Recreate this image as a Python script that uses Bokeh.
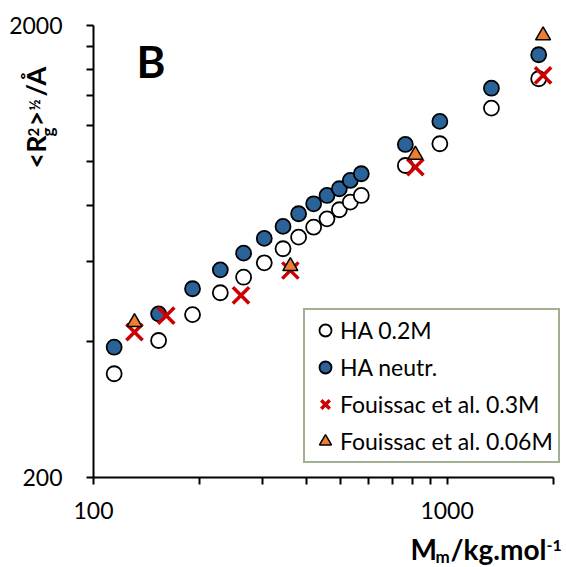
import math
from bokeh.plotting import figure
from bokeh.models import FixedTicker, Label, Legend, LegendItem, NumeralTickFormatter
from bokeh.embed import file_html
from bokeh.resources import INLINE

# ---- data ----
mm_ha = [114.4, 152.8, 190.6, 228.4, 265.8, 304.1, 343.6, 380.3, 419.4, 457.5,
         495.8, 532.5, 572.0, 762.1, 954.1, 1335, 1816]
rg_ha_02 = [339.3, 401.9, 458.6, 512.6, 554.8, 597.1, 641.4, 680.5, 715.8, 747.0,
            782.3, 813.2, 841.4, 980.1, 1095, 1313, 1525]
rg_ha_neutr = [388.4, 460.3, 523.1, 576.1, 627.1, 676.1, 718.7, 766.5, 806.5, 841.4,
               870.6, 908.3, 939.8, 1091, 1227, 1453, 1723]
mm_fou_03 = [130.6, 160.6, 261.3, 360.4, 813.5, 1869]
rg_fou_03 = [419.3, 456.3, 505.6, 574.1, 971.6, 1551]
mm_fou_006 = [130.6, 360.4, 813.5, 1869]
rg_fou_006 = [441.2, 586.9, 1035, 1901]

series_labels = ["HA 0.2M", "HA neutr.", "Fouissac et al. 0.3M", "Fouissac et al. 0.06M"]
x_major = [100, 1000]
x_minor = [200, 300, 400, 500, 600, 700, 800, 900, 2000]
y_major = [200, 2000]
y_minor = [400, 600, 800, 1000, 1200, 1400, 1600, 1800]
x_axis_span = (100, 2000)
y_axis_span = (200, 2000)

# ---- layout: the frame fills the canvas, axes sit at fixed locations inside it ----
W, H = 566, 567
AX_L, AX_R, AX_T, AX_B = 93, 553, 25, 477          # pixel box of the axes
dec_x = (AX_R - AX_L) / (math.log10(x_axis_span[1]) - math.log10(x_axis_span[0]))
dec_y = (AX_B - AX_T) / (math.log10(y_axis_span[1]) - math.log10(y_axis_span[0]))
x_lo = 10 ** (math.log10(x_axis_span[0]) - AX_L / dec_x)
x_hi = 10 ** (math.log10(x_axis_span[0]) + (W - AX_L) / dec_x)
y_lo = 10 ** (math.log10(y_axis_span[0]) - (H - AX_B) / dec_y)
y_hi = 10 ** (math.log10(y_axis_span[1]) + AX_T / dec_y)

FONT = "Lato"

p = figure(width=W, height=H, x_axis_type="log", y_axis_type="log",
           x_range=(x_lo, x_hi), y_range=(y_lo, y_hi),
           output_backend="svg", toolbar_location=None, min_border=0)
p.xgrid.visible = False
p.ygrid.visible = False
p.outline_line_color = None
p.background_fill_color = "white"
p.border_fill_color = "white"

p.xaxis.ticker = FixedTicker(ticks=x_major, minor_ticks=x_minor)
p.yaxis.ticker = FixedTicker(ticks=y_major, minor_ticks=y_minor)
p.xaxis.formatter = NumeralTickFormatter(format="0")
p.yaxis.formatter = NumeralTickFormatter(format="0")
p.xaxis.fixed_location = y_axis_span[0]
p.yaxis.fixed_location = x_axis_span[0]
p.xaxis.bounds = x_axis_span
p.yaxis.bounds = y_axis_span

for ax in (p.xaxis[0], p.yaxis[0]):
    ax.axis_line_width = 2
    ax.axis_line_color = "black"
    ax.major_tick_line_width = 2
    ax.minor_tick_line_width = 2
    ax.major_tick_line_color = "black"
    ax.minor_tick_line_color = "black"
    ax.major_tick_out = 7
    ax.major_tick_in = 0
    ax.minor_tick_out = 7
    ax.minor_tick_in = 0
    ax.major_label_text_font = FONT
    ax.major_label_text_font_size = "23px"
    ax.major_label_text_color = "black"
p.xaxis.major_label_standoff = 17
p.yaxis.major_label_standoff = 24

r1 = p.scatter(mm_ha, rg_ha_02, marker="circle", size=15, fill_color="white",
               line_color="black", line_width=1.8)
r2 = p.scatter(mm_ha, rg_ha_neutr, marker="circle", size=15, fill_color="#2A6399",
               line_color="black", line_width=1.8)
r3 = p.scatter(mm_fou_03, rg_fou_03, marker="x", size=23, line_color="#CC0000",
               line_width=3.5)
r4 = p.scatter(mm_fou_006, rg_fou_006, marker="triangle", size=15, fill_color="#ED7D31",
               line_color="black", line_width=1.5)

legend = Legend(items=[LegendItem(label=series_labels[i], renderers=[r])
                       for i, r in enumerate([r1, r2, r3, r4])],
                location=(303, H - 463), orientation="vertical",
                border_line_color="#46622A", border_line_width=2,
                background_fill_color="white", background_fill_alpha=1.0,
                label_text_font=FONT, label_text_font_size="23px",
                label_text_color="black",
                glyph_width=30, glyph_height=30, spacing=7, padding=5,
                label_standoff=0, margin=0)
p.add_layout(legend)

SHIFT = 0.43  # observed downward shift of alphabetic-baseline labels, per px of font size

def lab(cx, cy, txt, size, angle=0.0):
    # cx, cy: canvas position of the text's baseline start (from the top-left)
    if angle == 0.0:
        sx, sy = cx, H - cy + SHIFT * size
    else:
        sx, sy = cx - SHIFT * size, H - cy
    p.add_layout(Label(x=sx, y=sy, x_units="screen", y_units="screen", text=txt,
                       angle=angle, text_font=FONT, text_font_style="bold",
                       text_font_size=f"{size}px", text_color="black",
                       text_baseline="alphabetic", text_align="left"))

# panel letter
lab(136, 79, "B", 44)

# y-axis title (rotated pieces)
A = math.pi / 2
lab(47, 168, "<R", 27, A)
lab(54, 136, "g", 17, A)
lab(39, 136, "2", 15, A)
lab(47, 126, ">", 27, A)
lab(40, 110, "½", 15, A)
lab(47, 96, "/Å", 27, A)

# x-axis title pieces
lab(410, 561, "M", 28)
lab(435, 563, "m", 17)
lab(450, 561, "/kg.mol", 28)
lab(546, 552, "-1", 16)

open("out.html", "w").write(file_html(p, INLINE))
